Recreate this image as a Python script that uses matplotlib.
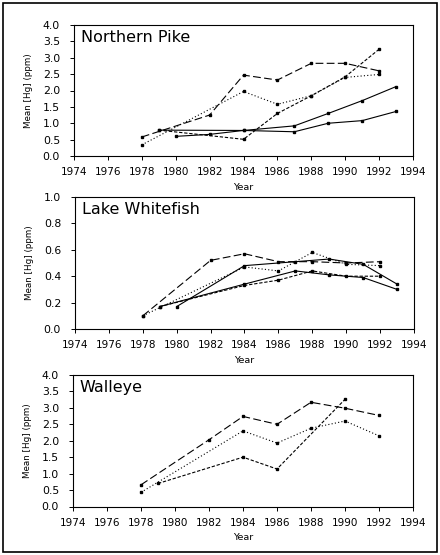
import matplotlib
matplotlib.use("Agg")
import matplotlib.pyplot as plt
from matplotlib.patches import Rectangle

# ---- data ----
pike_ld_x = [1978, 1982, 1984, 1986, 1988, 1990, 1992]
pike_ld_y = [0.58, 1.25, 2.47, 2.32, 2.83, 2.83, 2.60]
pike_dt_x = [1978, 1984, 1986, 1988, 1990, 1992]
pike_dt_y = [0.34, 1.97, 1.58, 1.84, 2.40, 2.49]
pike_sd_x = [1979, 1984, 1986, 1988, 1990, 1992]
pike_sd_y = [0.79, 0.51, 1.30, 1.84, 2.42, 3.26]
pike_s1_x = [1980, 1982, 1984, 1987, 1989, 1991, 1993]
pike_s1_y = [0.60, 0.66, 0.78, 0.92, 1.30, 1.69, 2.12]
pike_s2_x = [1979, 1984, 1987, 1989, 1991, 1993]
pike_s2_y = [0.79, 0.78, 0.74, 1.00, 1.08, 1.36]

wf_ld_x = [1978, 1982, 1984, 1986, 1988, 1990, 1992]
wf_ld_y = [0.10, 0.52, 0.57, 0.51, 0.51, 0.50, 0.51]
wf_dt_x = [1978, 1984, 1986, 1988, 1990, 1992]
wf_dt_y = [0.10, 0.47, 0.44, 0.58, 0.49, 0.48]
wf_sd_x = [1979, 1984, 1986, 1988, 1990, 1992]
wf_sd_y = [0.17, 0.33, 0.37, 0.44, 0.40, 0.40]
wf_s1_x = [1980, 1984, 1987, 1989, 1991, 1993]
wf_s1_y = [0.17, 0.48, 0.51, 0.53, 0.49, 0.34]
wf_s2_x = [1979, 1984, 1987, 1989, 1991, 1993]
wf_s2_y = [0.17, 0.34, 0.44, 0.41, 0.39, 0.30]

wal_ld_x = [1978, 1982, 1984, 1986, 1988, 1990, 1992]
wal_ld_y = [0.66, 2.03, 2.74, 2.50, 3.17, 2.99, 2.77]
wal_dt_x = [1978, 1984, 1986, 1988, 1990, 1992]
wal_dt_y = [0.43, 2.30, 1.93, 2.38, 2.60, 2.15]
wal_sd_x = [1979, 1984, 1986, 1990]
wal_sd_y = [0.70, 1.50, 1.14, 3.26]

x_ticks = list(range(1974, 1995, 2))
titles = ["Northern Pike", "Lake Whitefish", "Walleye"]
ylabel = "Mean [Hg] (ppm)"
xlabel = "Year"

styles = {
    "ld": (0, (7, 3)),
    "dt": (0, (1, 2)),
    "sd": (0, (3, 1.6)),
    "s1": "-",
    "s2": "-",
}

panels = [
    dict(series=[("ld", pike_ld_x, pike_ld_y), ("dt", pike_dt_x, pike_dt_y),
                 ("sd", pike_sd_x, pike_sd_y), ("s1", pike_s1_x, pike_s1_y),
                 ("s2", pike_s2_x, pike_s2_y)],
         ylim=(0, 4), yticks=[0, 0.5, 1, 1.5, 2, 2.5, 3, 3.5, 4],
         rect=[74/440, 1-156/555, 339/440, 131/555]),
    dict(series=[("ld", wf_ld_x, wf_ld_y), ("dt", wf_dt_x, wf_dt_y),
                 ("sd", wf_sd_x, wf_sd_y), ("s1", wf_s1_x, wf_s1_y),
                 ("s2", wf_s2_x, wf_s2_y)],
         ylim=(0, 1), yticks=[0, 0.2, 0.4, 0.6, 0.8, 1.0],
         rect=[75/440, 1-329/555, 339/440, 132/555]),
    dict(series=[("ld", wal_ld_x, wal_ld_y), ("dt", wal_dt_x, wal_dt_y),
                 ("sd", wal_sd_x, wal_sd_y)],
         ylim=(0, 4), yticks=[0, 0.5, 1, 1.5, 2, 2.5, 3, 3.5, 4],
         rect=[73/440, 1-506.5/555, 340/440, 131.5/555]),
]

plt.rcParams['font.family'] = ['DejaVu Sans']
fig = plt.figure(figsize=(4.4, 5.55), dpi=100)

for title, p in zip(titles, panels):
    ax = fig.add_axes(p["rect"])
    for key, xs, ys in p["series"]:
        ax.plot(xs, ys, color="black", lw=0.8, linestyle=styles[key],
                marker="s", markersize=1.6, markerfacecolor="black",
                markeredgecolor="black")
    ax.set_xlim(1974, 1994)
    ax.set_ylim(*p["ylim"])
    ax.set_xticks(x_ticks)
    ax.set_xticklabels([str(t) for t in x_ticks], fontsize=7.5)
    ax.set_yticks(p["yticks"])
    ax.set_yticklabels([f"{v:.1f}" for v in p["yticks"]], fontsize=7.8)
    ax.tick_params(direction="out", length=3, width=0.7)
    ax.tick_params(axis="y", pad=7)
    ax.tick_params(axis="x", pad=5)
    for s in ax.spines.values():
        s.set_linewidth(0.8)
    ax.set_xlabel(xlabel, fontsize=6.8, labelpad=4)
    ax.set_ylabel(ylabel, fontsize=6.3, labelpad=7)
    ax.text(0.02, 0.96, title, transform=ax.transAxes, fontsize=11.5,
            ha="left", va="top", fontweight="normal", color="black")

fig.patches.append(Rectangle((3/440, 3/555), 434/440, 549/555,
                             transform=fig.transFigure, fill=False,
                             edgecolor="black", linewidth=1.2))

fig.savefig("out.png", dpi=100)
